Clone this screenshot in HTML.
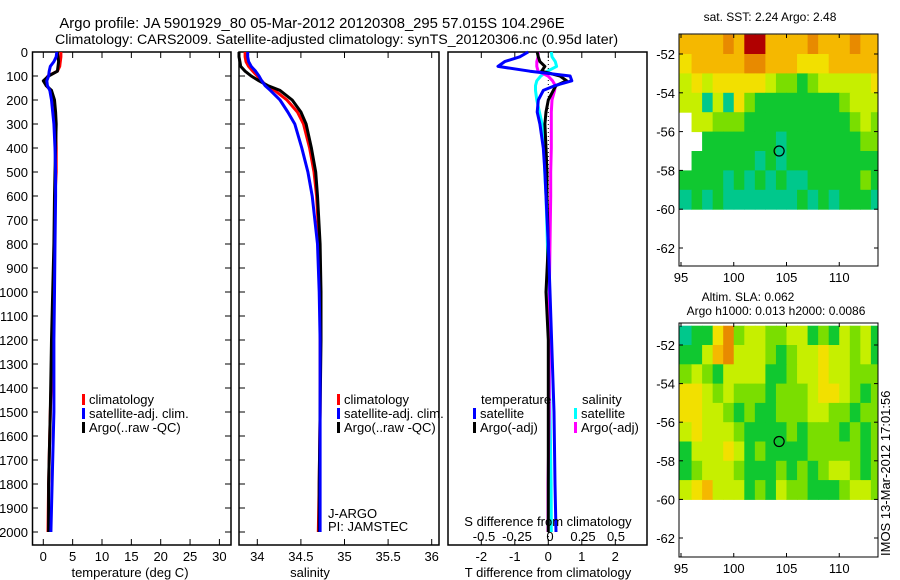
<!DOCTYPE html>
<html><head><meta charset="utf-8"><style>
body{margin:0;background:#fff;}
svg{display:block;font-family:"Liberation Sans",sans-serif;}
text{fill:#000;}
</style></head><body>
<svg id="c" width="900" height="580" viewBox="0 0 900 580">
<text x="312" y="28" font-size="14.8" text-anchor="middle">Argo profile: JA 5901929_80 05-Mar-2012 20120308_295 57.015S 104.296E</text>
<text x="55" y="44" font-size="14.2">Climatology: CARS2009. Satellite-adjusted climatology: synTS_20120306.nc (0.95d later)</text>
<g id="g"></g>
</svg>
<script>
const depths=[0,20,40,60,80,100,120,140,160,200,250,300,400,500,600,800,1000,1200,1500,1800,2000];
const tempClim=[3.0,3.0,2.9,2.8,2.4,0.8,0.2,0.5,1.3,1.8,2.0,2.1,2.2,2.2,2.0,1.9,1.8,1.6,1.2,0.9,0.8];
const tempSat=[2.3,2.2,1.8,1.2,1.0,0.9,0.6,0.7,1.1,1.4,1.6,1.8,2.0,2.1,2.1,2.0,1.9,1.8,1.8,1.5,1.3];
const tempArgo=[2.4,2.5,2.6,2.5,2.4,0.9,0.0,0.5,1.4,1.9,2.1,2.2,2.1,2.0,1.9,1.8,1.6,1.4,1.2,0.9,0.9];
const salClim=[33.86,33.86,33.87,33.9,33.95,34.0,34.05,34.1,34.2,34.34,34.46,34.53,34.6,34.65,34.68,34.71,34.72,34.72,34.72,34.71,34.70];
const salSat=[33.89,33.89,33.9,33.93,33.98,34.02,34.05,34.09,34.15,34.26,34.35,34.43,34.51,34.58,34.63,34.69,34.71,34.72,34.72,34.72,34.72];
const salArgo=[33.79,33.79,33.8,33.81,33.86,33.93,34.02,34.12,34.26,34.4,34.5,34.56,34.62,34.67,34.69,34.72,34.73,34.73,34.72,34.71,34.71];
const dTsat=[-0.6,-0.85,-1.3,-1.5,-0.55,0.65,0.7,0.2,-0.15,-0.3,-0.33,-0.25,-0.15,-0.1,-0.07,0,0.05,0.1,0.17,0.2,0.23];
const dTargo=[-0.33,-0.3,-0.25,-0.1,-0.2,0.35,0.55,0.23,0.15,0,-0.07,-0.1,-0.07,-0.04,-0.04,0,-0.07,0,0,0,0];
const dSsat=[0.01,0.015,0.04,0.05,-0.02,-0.07,-0.1,-0.11,-0.11,-0.1,-0.08,-0.06,-0.045,-0.04,-0.03,-0.02,-0.015,-0.008,0,0.008,0.01];
const dSargo=[-0.09,-0.09,-0.1,-0.1,-0.09,-0.015,0.02,0.04,0.035,0.015,0.01,0.01,0.01,0.005,0.005,0,-0.005,-0.005,-0.005,-0.015,-0.015];
const depthTicks=[0,100,200,300,400,500,600,700,800,900,1000,1100,1200,1300,1400,1500,1600,1700,1800,1900,2000];
const tempTicks=[0,5,10,15,20,25,30];
const salTicks=[34,34.5,35,35.5,36];
const salTickLabels=["34","34.5","35","35.5","36"];
const dTTicks=[-2,-1,0,1,2];
const dSTicks=[-0.5,-0.25,0,0.25,0.5];
const dSTickLabels=["-0.5","-0.25","0","0.25","0.5"];
const lonTicks=[95,100,105,110];
const latTicks=[-52,-54,-56,-58,-60,-62];
const sstGrid=["5555657755556555655","4555556655544455555","3434444432212333334","3303042111111112333","w332221111111111232","ww11111110111111122","w111111010111111111","1111010101001111121","0101000000010101110"];
const slaGrid=["0114623322331213231","1135633321233433231","2321333311233433222","4432322212223443212","4433212112223322122","3433321111212221212","1333431211112222212","1233321112121233212","3453331213221112332"];
const argoLon=104.3, argoLat=-57.0;
const palette={"0":"#00c88c","1":"#10c830","2":"#7ade00","3":"#c6ef00","4":"#f2e000","5":"#f5b800","6":"#e88a00","7":"#b00000"};

const NS="http://www.w3.org/2000/svg";
const G=document.getElementById('g');
function mk(tag,attrs,parent){const e=document.createElementNS(NS,tag);for(const k in attrs)e.setAttribute(k,attrs[k]);(parent||G).appendChild(e);return e;}
function txt(x,y,s,size,anchor,parent){const t=mk('text',{x:x,y:y,'font-size':size,'text-anchor':anchor||'start'},parent);t.textContent=s;return t;}
const Y=d=>52+d*0.24;
const pTop=52,pBot=545;
const xT=v=>43.3+5.87*v;
const xS=v=>257.3+87.2*(v-34);
const xdT=v=>548.3+33.5*v;
const xdS=v=>550+132*v;

function frame(x0,x1,name){
  const r=mk('rect',{x:x0,y:pTop,width:x1-x0,height:pBot-pTop,fill:'none',stroke:'#000','stroke-width':1.5});
  
  
}
function line(xs,vals,col,name){
  let p=[];
  for(let i=0;i<depths.length;i++){
    p.push(xs(vals[i]).toFixed(1)+','+Y(depths[i]).toFixed(1));
  }
  const pl=mk('polyline',{points:p.join(' '),fill:'none',stroke:col,'stroke-width':3,'stroke-linejoin':'round'});
  
  
}
frame(32.5,231,'temperature-panel');
frame(239,439,'salinity-panel');
frame(448,647,'difference-panel');
depthTicks.forEach(d=>{
  const y=Y(d);
  mk('line',{x1:32.5,x2:38,y1:y,y2:y,stroke:'#000'});
  mk('line',{x1:225,x2:231,y1:y,y2:y,stroke:'#000'});
  mk('line',{x1:239,x2:245,y1:y,y2:y,stroke:'#000'});
  const t=txt(28,y+5,String(d),13,'end');
  
  
});
function xticks(vals,fx,labels){
  vals.forEach((v,i)=>{
    const x=fx(v);
    mk('line',{x1:x,x2:x,y1:pTop,y2:pTop+6,stroke:'#000'});
    mk('line',{x1:x,x2:x,y1:pBot-6,y2:pBot,stroke:'#000'});
    const t=txt(x,561,labels?labels[i]:String(v),13,'middle');
    
    
  });
}
xticks(tempTicks,xT);
xticks(salTicks,xS,salTickLabels);
xticks(dTTicks,xdT);
dSTicks.forEach((v,i)=>{
  const t=txt(xdS(v),541,dSTickLabels[i],13,'middle');
  
  
});
const zl=mk('line',{x1:xdT(0),x2:xdT(0),y1:pTop,y2:pBot,stroke:'#000','stroke-dasharray':'1,3'});


line(xT,tempClim,'#ff0000','temp-climatology');
line(xT,tempArgo,'#000','temp-argo');
line(xT,tempSat,'#0000ff','temp-satellite');
line(xS,salClim,'#ff0000','sal-climatology');
line(xS,salArgo,'#000','sal-argo');
line(xS,salSat,'#0000ff','sal-satellite');
line(xdS,dSsat,'#00ffff','sdiff-satellite');
line(xdS,dSargo,'#ff00ff','sdiff-argo');
line(xdT,dTargo,'#000','tdiff-argo');
line(xdT,dTsat,'#0000ff','tdiff-satellite');
[[130,'temperature (deg C)','temperature-axis-title'],[310,'salinity','salinity-axis-title'],[548,'T difference from climatology','tdiff-axis-title']].forEach(a=>{
  const t=txt(a[0],577,a[1],13,'middle');
  
  
});
const sdt=txt(548,526,'S difference from climatology',13,'middle');


function leg(x,y,col,label){
  mk('rect',{x:x,y:y-10,width:3,height:11,fill:col});
  const t=txt(x+7,y,label,13);
  
  
}
[[82],[337]].forEach(p=>{
  leg(p[0],404,'#ff0000','climatology');
  leg(p[0],418,'#0000ff','satellite-adj. clim.');
  leg(p[0],432,'#000','Argo(..raw -QC)');
});
txt(481,404,'temperature',13);
txt(582,404,'salinity',13);
leg(473,418,'#0000ff','satellite');
leg(473,432,'#000','Argo(-adj)');
leg(574,418,'#00ffff','satellite');
leg(574,432,'#ff00ff','Argo(-adj)');
const j1=txt(328,518,'J-ARGO',13);
const j2=txt(328,531,'PI: JAMSTEC',13);

function map(grid,yTop,yLat52,pxLat,bottom,name,t1,t2){
  const x0=679,x1=878;
  const lx=l=>681+10.55*(l-95);
  const ly=l=>yLat52+pxLat*(-52-l);
  const cid='clip'+name;
  const cp=mk('clipPath',{id:cid});
  mk('rect',{x:x0,y:yTop,width:x1-x0,height:bottom-yTop},cp);
  const g=mk('g',{'clip-path':'url(#'+cid+')'});
  
  
  grid.forEach((row,r)=>{
    for(let c=0;c<row.length;c++){
      const ch=row[c];if(ch==='w')continue;
      const lon=95+c,lat=-51-r;
      const x=c===0?x0:lx(lon);
      const cell=mk('rect',{x:x,y:ly(lat),width:lx(lon+1)-x+0.5,height:ly(lat-1)-ly(lat)+0.5,fill:palette[ch]},g);
      
      
    }
  });
  mk('rect',{x:x0,y:yTop,width:x1-x0,height:bottom-yTop,fill:'none',stroke:'#000','stroke-width':1});
  const circ=mk('circle',{cx:lx(argoLon),cy:ly(argoLat),r:5,fill:'none',stroke:'#000','stroke-width':1.2});
  
  
  lonTicks.forEach(l=>{
    mk('line',{x1:lx(l),x2:lx(l),y1:yTop,y2:yTop+4,stroke:'#000'});
    mk('line',{x1:lx(l),x2:lx(l),y1:bottom-4,y2:bottom,stroke:'#000'});
    txt(lx(l),bottom+16,String(l),13,'middle');
  });
  latTicks.forEach(l=>{
    mk('line',{x1:x0,x2:x0+4,y1:ly(l),y2:ly(l),stroke:'#000'});
    mk('line',{x1:x1-4,x2:x1,y1:ly(l),y2:ly(l),stroke:'#000'});
    txt(x0-4,ly(l)+5,String(l),13,'end');
  });
  if(t1){const a=txt(t1[0],t1[1],t1[2],12,'middle');}
  if(t2){const b=txt(t2[0],t2[1],t2[2],12,'middle');}
}
map(sstGrid,34,54,19.4,266,'sst-map',[770,21,'sat. SST: 2.24 Argo: 2.48'],null);
map(slaGrid,323,345,19.3,557,'sla-map',[748,301,'Altim. SLA: 0.062'],[776,315,'Argo h1000: 0.013 h2000: 0.0086']);
const im=txt(0,0,'IMOS 13-Mar-2012 17:01:56',13,'start');
im.setAttribute('transform','translate(890,556) rotate(-90)');


</script>
</body></html>
